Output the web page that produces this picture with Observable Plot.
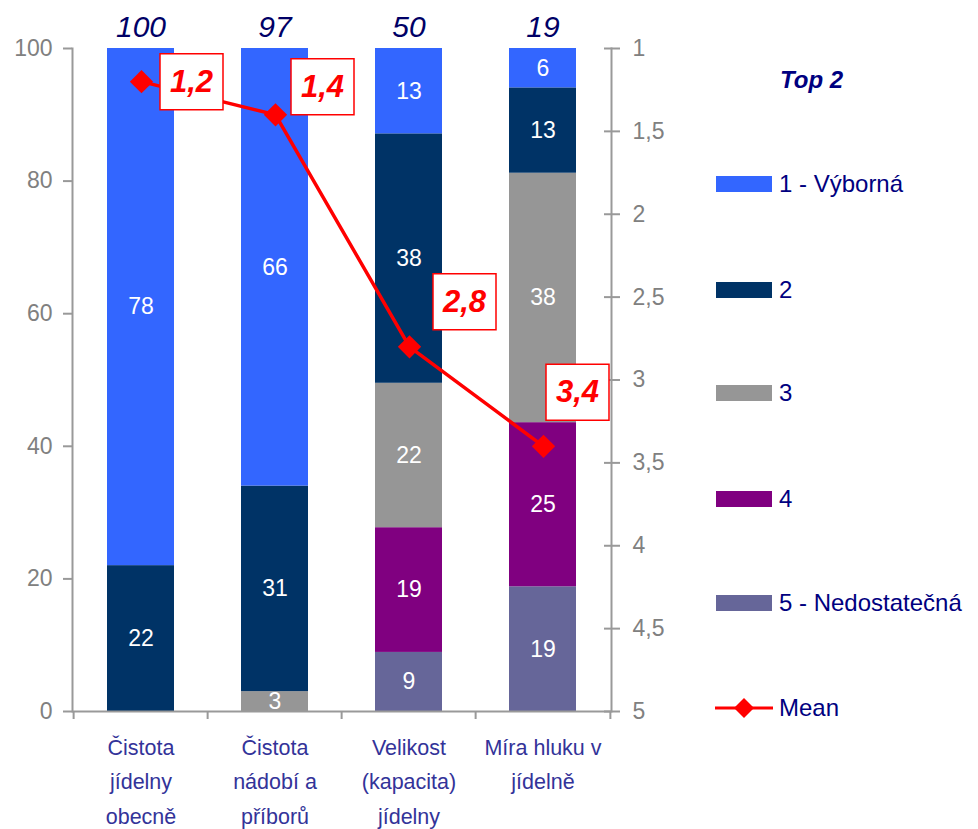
<!DOCTYPE html>
<html><head><meta charset="utf-8">
<script src="https://cdn.jsdelivr.net/npm/d3@7"></script>
<script src="https://cdn.jsdelivr.net/npm/@observablehq/plot@0.6"></script>
<style>
body{margin:0;background:#fff;font-family:"Liberation Sans",Arial,sans-serif;}
#wrap{position:relative;width:978px;height:829px;overflow:hidden;background:#fff}
#wrap > svg{position:absolute;left:0;top:0}
.lg{position:absolute;color:#000080;font-size:24px;line-height:1;white-space:nowrap}
.sw{position:absolute;width:56px;height:16px}
</style></head><body><div id="wrap"></div>
<script>
// ---- data ----
const categories = ["Čistota\njídelny\nobecně", "Čistota\nnádobí a\npříborů", "Velikost\n(kapacita)\njídelny", "Míra hluku v\njídelně"];
const seriesNames = ["1 - Výborná", "2", "3", "4", "5 - Nedostatečná"];
const values1 = [78, 66, 13, 6];
const values2 = [22, 31, 38, 13];
const values3 = [0, 3, 22, 38];
const values4 = [0, 0, 19, 25];
const values5 = [0, 0, 9, 19];
const top2 = [100, 97, 50, 19];
const means = [1.2, 1.4, 2.8, 3.4];
const leftTicks = [0, 20, 40, 60, 80, 100];
const rightTicks = [1, 1.5, 2, 2.5, 3, 3.5, 4, 4.5, 5];
const legendTitle = "Top 2";
const meanName = "Mean";

// ---- styling ----
const colors = ["#3366FF", "#003366", "#969696", "#800080", "#666699"];
const W = 978, H = 829, mt = 48, mb = 118, ml = 72, mr = 367;
const axisGray = "#999999", labelGray = "#808080";
const font = "'Liberation Sans', Arial, sans-serif";
const labelNudges = [[50, 0], [47, -28], [55, -45], [34, -54]];

const allValues = [values1, values2, values3, values4, values5];
const rows = [];
for (let s = seriesNames.length - 1; s >= 0; s--) {
  categories.forEach((c, i) => rows.push({cat: c, series: seriesNames[s], value: allValues[s][i]}));
}
const meanRows = categories.map((c, i) => ({cat: c, mean: means[i]}));
const step = (W - ml - mr) / categories.length;
const comma = d => String(d).replace(".", ",");

const xScale = {domain: categories, paddingInner: 0.5, paddingOuter: 0.25, axis: null};
const baseStyle = {fontFamily: font, fontSize: "23px", color: labelGray, background: "none", overflow: "visible"};

const main = Plot.plot({
  width: W, height: H, marginTop: mt, marginBottom: mb, marginLeft: ml, marginRight: mr,
  style: baseStyle,
  x: xScale,
  y: {domain: [0, 1], axis: null},
  color: {domain: seriesNames, range: colors},
  marks: [
    Plot.barY(rows, Plot.stackY({offset: "normalize"}, {x: "cat", y: "value", z: "series", fill: "series"})),
    Plot.text(rows.filter(d => d.value > 0), Plot.stackY({offset: "normalize"}, {x: "cat", y: "value", z: "series", text: d => d.value, fill: "white", fontSize: 23})),
    Plot.text(categories, {x: d => d, text: (d, i) => top2[i], frameAnchor: "top", dy: -33, fontSize: 30, fontStyle: "italic", fill: "#000066"}),
    Plot.axisY({anchor: "left", label: null, ticks: leftTicks.map(v => v / 100), tickFormat: d => Math.round(d * 100), tickSize: 9, tickPadding: 11, stroke: axisGray, strokeWidth: 2, fill: labelGray, fontSize: 23}),
    Plot.frame({anchor: "left", stroke: axisGray, strokeWidth: 2}),
    Plot.ruleY([0], {stroke: axisGray, strokeWidth: 2}),
    Plot.axisX({label: null, ticks: categories, tickSize: 8, tickFormat: () => "", dx: -step / 2, stroke: axisGray, strokeWidth: 2}),
    Plot.axisX({label: null, ticks: [categories[categories.length - 1]], tickSize: 8, tickFormat: () => "", dx: step / 2, stroke: axisGray, strokeWidth: 2}),
    Plot.axisX({label: null, tickSize: 0, tickPadding: 19, fontSize: 21.5, fill: "#333399", lineHeight: 1.6})
  ]
});

const boxSymbol = {draw(ctx) { ctx.rect(-31.5, -28, 63, 56); }};
const labelMarks = [];
meanRows.forEach((r, i) => {
  const [dx, dy] = labelNudges[i];
  labelMarks.push(Plot.dot([r], {x: "cat", y: "mean", symbol: boxSymbol, fill: "white", stroke: "red", strokeWidth: 1.5, dx, dy}));
  labelMarks.push(Plot.text([r], {x: "cat", y: "mean", text: d => comma(d.mean), dx, dy, fontSize: 31, fontWeight: "bold", fontStyle: "italic", fill: "red"}));
});

const over = Plot.plot({
  width: W, height: H, marginTop: mt, marginBottom: mb, marginLeft: ml, marginRight: mr,
  style: baseStyle,
  x: xScale,
  y: {domain: [5, 1], axis: null},
  marks: [
    Plot.frame({anchor: "right", stroke: axisGray, strokeWidth: 2}),
    Plot.axisY({anchor: "right", label: null, ticks: rightTicks, tickFormat: comma, tickSize: 16, dx: -8, tickPadding: 13, stroke: axisGray, strokeWidth: 2, fill: labelGray, fontSize: 23}),
    Plot.line(meanRows, {x: "cat", y: "mean", stroke: "red", strokeWidth: 3.5}),
    Plot.dot(meanRows, {x: "cat", y: "mean", symbol: "diamond2", r: 10.5, fill: "red"}),
    ...labelMarks
  ]
});

const wrap = document.getElementById("wrap");
wrap.appendChild(main);
wrap.appendChild(over);

// ---- legend ----
const lg = d3.select(wrap);
lg.append("div").attr("class", "lg").style("left", "780px").style("top", "68px")
  .style("font-weight", "bold").style("font-style", "italic").text(legendTitle);
const itemY = [184, 290, 393, 499, 603];
seriesNames.forEach((s, i) => {
  lg.append("div").attr("class", "sw").style("left", "716px").style("top", (itemY[i] - 8) + "px").style("background", colors[i]);
  lg.append("div").attr("class", "lg").style("left", "779px").style("top", (itemY[i] - 12) + "px").text(s);
});
const ms = lg.append("svg").attr("width", 62).attr("height", 30).style("position", "absolute").style("left", "713px").style("top", "693px");
ms.append("line").attr("x1", 2).attr("x2", 60).attr("y1", 15).attr("y2", 15).attr("stroke", "red").attr("stroke-width", 3);
ms.append("path").attr("d", "M31,5L41,15L31,25L21,15Z").attr("fill", "red");
lg.append("div").attr("class", "lg").style("left", "779px").style("top", "696px").text(meanName);
</script></body></html>
